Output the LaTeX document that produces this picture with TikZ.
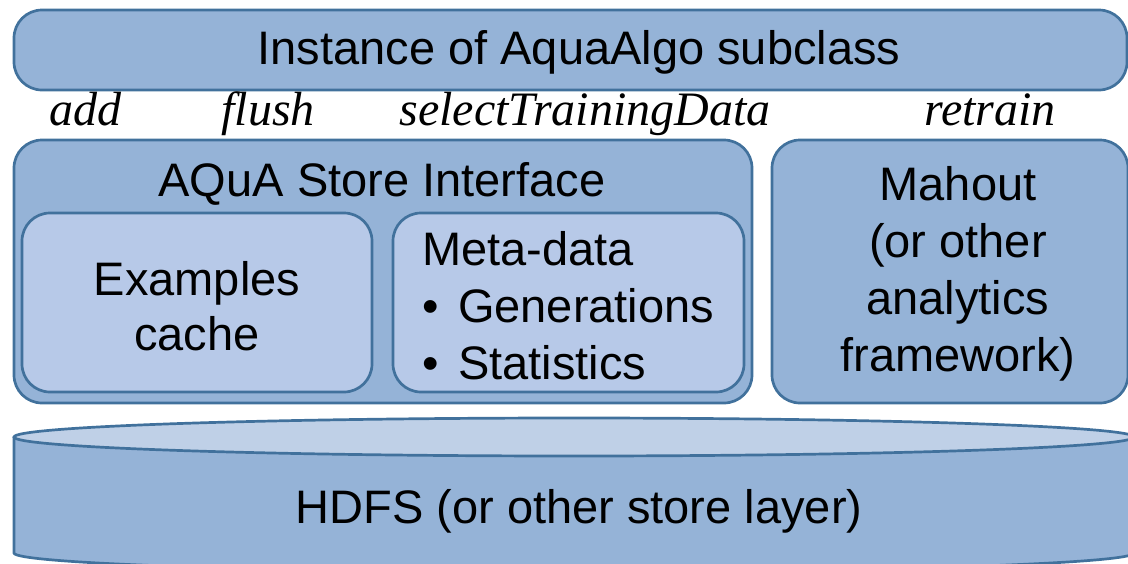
\documentclass[tikz,border=0pt]{standalone}
\usepackage{fontspec}
\setmainfont{Liberation Sans}
\newfontfamily\opfont{Liberation Serif}
\definecolor{edge}{RGB}{65,113,156}
\definecolor{fillmain}{RGB}{149,179,215}
\definecolor{fillsub}{RGB}{183,201,232}
\definecolor{fillcap}{RGB}{191,208,231}
\begin{document}
\begin{tikzpicture}[x=1pt,y=-1pt,
  blk/.style={draw=edge, line width=2.7pt, fill=fillmain, rounded corners=28pt, inner sep=0pt},
  sub/.style={blk, fill=fillsub},
  txt/.style={font=\fontsize{47}{57}\selectfont, align=center, text=black, inner sep=0pt},
  op/.style={font=\opfont\itshape\fontsize{48}{57}\selectfont, anchor=base, inner sep=0pt}]
\useasboundingbox (0,0) rectangle (1128,563);
\clip (0,0) rectangle (1128,563);

% algorithm layer
\node[blk, minimum width=1113pt, minimum height=80pt] (algo) at (570.5,50) {};
\node[txt, anchor=base] (algotext) at (579,64) {Instance of AquaAlgo subclass};

% operation names
\node[op] (add) at (85,125) {add};
\node[op] (flush) at (268,125) {flush};
\node[op] (select) at (585,125) {selectTrainingData};
\node[op] (retrain) at (990,125) {retrain};

% store interface with its two parts
\node[blk, minimum width=738pt, minimum height=263pt] (store) at (383,271.5) {};
\node[txt, anchor=base] (storetext) at (382,196) {AQuA Store Interface};
\node[sub, minimum width=350pt, minimum height=179pt] (cache) at (197,302.5) {};
\node[txt, anchor=base, font=\fontsize{47}{55}\selectfont] (cachetext) at (197,350) {Examples\\cache};
\node[sub, minimum width=351pt, minimum height=179pt] (meta) at (568.5,302.5) {};
\node[txt, anchor=base west, align=left] (metatext) at (422,379)
  {Meta-data\\\makebox[36pt][l]{\textbullet}Generations\\\makebox[36pt][l]{\textbullet}Statistics};

% analytics framework
\node[blk, minimum width=356pt, minimum height=263pt] (mahout) at (950,271.5) {};
\node[txt, anchor=base] (mahouttext) at (958,371) {Mahout\\(or other\\analytics\\framework)};

% storage cylinder
\fill[fillmain] (14,437) -- (14,553) arc[start angle=180,end angle=0,x radius=560,y radius=19]
  -- (1134,437) -- cycle;
\draw[edge, line width=2.7pt] (14,437) -- (14,553) arc[start angle=180,end angle=0,x radius=560,y radius=19]
  -- (1134,437);
\draw[edge, line width=2.7pt, fill=fillcap] (574,437) ellipse[x radius=560, y radius=19];
\node[txt, anchor=base] (hdfs) at (579,523) {HDFS (or other store layer)};
\end{tikzpicture}
\end{document}
